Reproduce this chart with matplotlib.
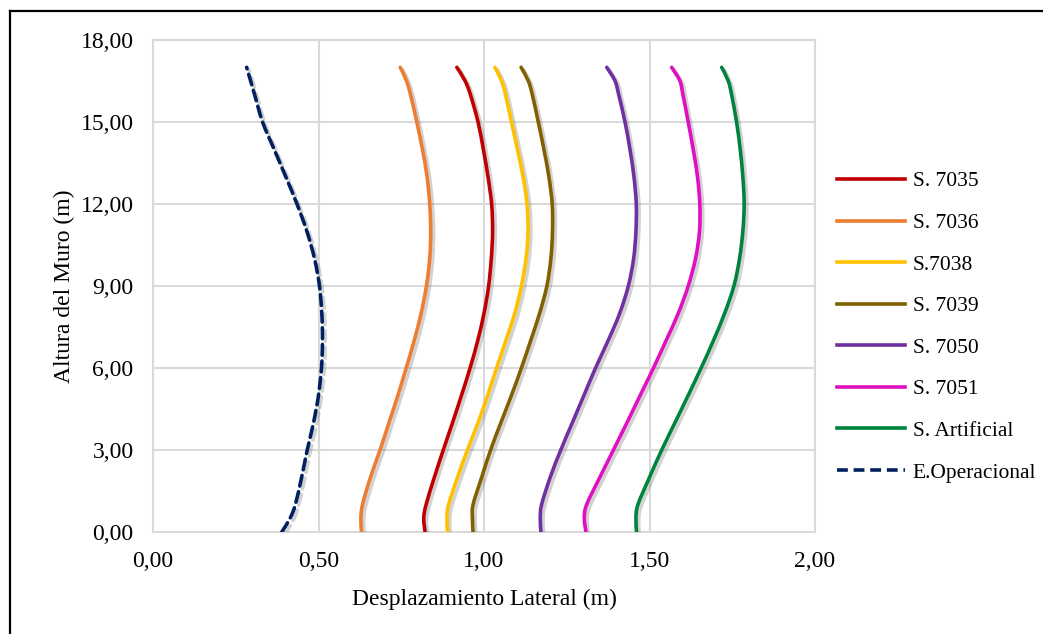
import matplotlib
matplotlib.use("Agg")
import numpy as np
import matplotlib.pyplot as plt
import matplotlib.patheffects as pe
from matplotlib.ticker import FuncFormatter, MultipleLocator
from matplotlib.lines import Line2D
from matplotlib.path import Path
from matplotlib.patches import PathPatch

# Heights along the wall (m)
heights = [0, 0.5, 1, 2, 3, 4, 5, 6, 7, 8, 9, 10, 11, 12, 13, 14, 15, 16, 16.5, 17]

# Lateral displacement (m) for each record
s7035 = [0.822, 0.818, 0.825, 0.850, 0.877, 0.905, 0.932, 0.958, 0.981, 1.000,
         1.014, 1.022, 1.026, 1.023, 1.012, 0.998, 0.982, 0.959, 0.943, 0.918]
s7036 = [0.630, 0.628, 0.633, 0.657, 0.686, 0.713, 0.740, 0.765, 0.789, 0.810,
         0.826, 0.836, 0.839, 0.836, 0.828, 0.814, 0.797, 0.778, 0.766, 0.747]
s7038 = [0.890, 0.888, 0.893, 0.920, 0.950, 0.982, 1.011, 1.038, 1.066, 1.093,
         1.113, 1.127, 1.133, 1.130, 1.118, 1.101, 1.083, 1.065, 1.053, 1.033]
s7039 = [0.967, 0.965, 0.967, 0.993, 1.020, 1.051, 1.083, 1.113, 1.141, 1.168,
         1.190, 1.202, 1.207, 1.206, 1.196, 1.181, 1.164, 1.146, 1.134, 1.112]
s7050 = [1.172, 1.170, 1.174, 1.200, 1.232, 1.267, 1.302, 1.337, 1.375, 1.410,
         1.436, 1.452, 1.459, 1.460, 1.453, 1.441, 1.426, 1.407, 1.396, 1.371]
s7051 = [1.308, 1.303, 1.310, 1.350, 1.391, 1.432, 1.472, 1.512, 1.550, 1.587,
         1.617, 1.639, 1.651, 1.652, 1.645, 1.632, 1.617, 1.601, 1.592, 1.567]
s_art = [1.461, 1.459, 1.465, 1.500, 1.537, 1.577, 1.617, 1.656, 1.693, 1.727,
         1.755, 1.772, 1.782, 1.786, 1.782, 1.774, 1.763, 1.748, 1.738, 1.718]
e_oper = [0.389, 0.414, 0.430, 0.449, 0.466, 0.485, 0.500, 0.509, 0.512, 0.510,
          0.503, 0.488, 0.465, 0.435, 0.401, 0.366, 0.331, 0.307, 0.295, 0.283]

labels = ["S. 7035", "S. 7036", "S.7038", "S. 7039", "S. 7050", "S. 7051",
          "S. Artificial", "E.Operacional"]
series = [s7035, s7036, s7038, s7039, s7050, s7051, s_art, e_oper]
colors = ["#C00000", "#ED7D31", "#FFC000", "#806000", "#7030A0", "#E010C0",
          "#00843D", "#002060"]


def smooth_path(xs, ys, t=1/6):
    """Excel-like smoothed line: Catmull-Rom converted to cubic Bezier."""
    x = np.asarray(xs, float)
    y = np.asarray(ys, float)
    n = len(x)
    verts = [(x[0], y[0])]
    codes = [Path.MOVETO]
    for i in range(n - 1):
        p0 = i - 1 if i > 0 else i
        p3 = i + 2 if i + 2 < n else i + 1
        c1 = (x[i] + (x[i + 1] - x[p0]) * t, y[i] + (y[i + 1] - y[p0]) * t)
        c2 = (x[i + 1] - (x[p3] - x[i]) * t, y[i + 1] - (y[p3] - y[i]) * t)
        verts += [c1, c2, (x[i + 1], y[i + 1])]
        codes += [Path.CURVE4] * 3
    return Path(verts, codes)


FS = 17
LFS = 15.5
plt.rcParams['font.family'] = ['Liberation Serif', 'DejaVu Serif']

fig = plt.figure(figsize=(10.43, 6.34), dpi=100)
ax = fig.add_axes([153/1043, 1-532/634, (815-153)/1043, (532-40)/634])

shadow = [pe.SimpleLineShadow(offset=(2, -2), shadow_color='gray', alpha=0.35),
          pe.Normal()]

handles = []
for lab, vals, col in zip(labels, series, colors):
    ls = (0, (3, 1.6)) if lab == "E.Operacional" else '-'
    patch = PathPatch(smooth_path(vals, heights), facecolor='none', edgecolor=col,
                      lw=2.6, ls=ls, capstyle='round', joinstyle='round',
                      path_effects=shadow, zorder=3)
    ax.add_patch(patch)
    handles.append(Line2D([], [], color=col, lw=2.6, ls=ls))

ax.set_xlim(0, 2)
ax.set_ylim(0, 18)
ax.xaxis.set_major_locator(MultipleLocator(0.5))
ax.yaxis.set_major_locator(MultipleLocator(3))
fmt = FuncFormatter(lambda v, p: f"{v:.2f}".replace(".", ","))
ax.xaxis.set_major_formatter(fmt)
ax.yaxis.set_major_formatter(fmt)
ax.tick_params(axis='both', length=0, labelsize=FS, colors='#000000')
ax.tick_params(axis='x', pad=14)
ax.tick_params(axis='y', pad=14)
ax.grid(True, color='#d9d9d9', lw=1.5)
ax.set_axisbelow(True)
for sp in ax.spines.values():
    sp.set_color('#d9d9d9')
    sp.set_linewidth(1.5)

ax.set_xlabel("Desplazamiento Lateral (m)", fontsize=FS, labelpad=12)
ax.set_ylabel("Altura del Muro (m)", fontsize=FS, labelpad=4)

fig.legend(handles, labels, loc='center left',
           bbox_to_anchor=(837/1043, 1-327/634), frameon=False,
           fontsize=LFS, handlelength=3.15, handletextpad=0.36,
           labelspacing=1.0, borderpad=0, borderaxespad=0)

# Outer frame lines (left and top)
fig.add_artist(Line2D([10/1043, 10/1043], [0, 1-11/634], color='black', lw=1.6,
                      transform=fig.transFigure))
fig.add_artist(Line2D([10/1043, 1], [1-11/634, 1-11/634], color='black', lw=1.6,
                      transform=fig.transFigure))

fig.savefig("out.png", dpi=100)
